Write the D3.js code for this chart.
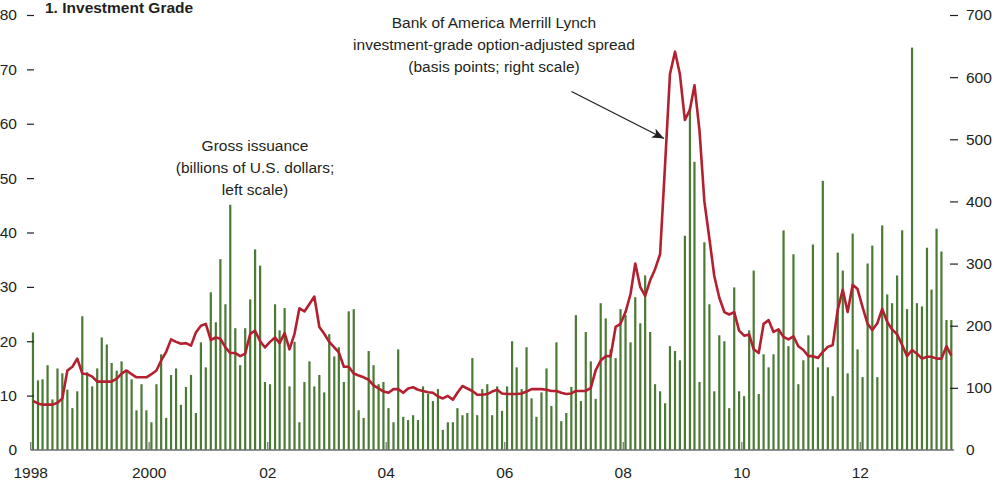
<!DOCTYPE html>
<html>
<head>
<meta charset="utf-8">
<script src="https://cdn.jsdelivr.net/npm/d3@7"></script>
<style>
  body { margin: 0; background: #fff; }
  svg text { font-family: "Liberation Sans", Arial, sans-serif; fill: #231f20; }
</style>
</head>
<body>
<svg id="chart" width="998" height="481"></svg>
<script>
// monthly gross issuance, billions of U.S. dollars (left scale), Jan 1998 - Jul 2013
const issuance = [
  21.6,12.8,13.0,15.6,9.3,15.0,14.1,11.1,7.7,10.8,24.6,14.3,
  11.7,15.0,20.7,19.4,16.0,14.6,16.3,14.7,13.0,7.3,12.1,7.3,
  5.1,12.1,17.6,5.9,13.8,15.0,8.3,11.6,13.8,6.8,19.8,15.2,
  29.0,23.5,35.1,26.8,45.1,22.4,15.6,22.4,27.7,36.9,33.9,12.5,
  12.1,26.8,22.0,26.1,11.7,19.9,5.1,12.5,16.3,11.7,13.8,10.6,
  21.3,17.2,18.9,12.5,25.5,25.9,7.3,5.9,18.2,15.6,12.1,12.5,
  7.7,5.1,18.5,6.1,5.5,6.4,5.5,11.7,10.3,9.0,11.2,3.7,
  5.1,5.1,7.7,6.4,6.8,16.9,6.4,11.2,12.1,6.4,11.7,7.2,
  11.7,20.0,15.2,11.2,18.9,9.5,6.1,10.6,15.0,8.1,19.8,5.3,
  6.8,11.6,24.8,9.0,21.7,16.3,9.4,27.0,24.2,18.5,16.9,25.9,
  24.8,19.8,28.1,23.3,32.1,21.7,12.1,10.8,8.6,19.1,18.2,16.5,
  39.4,63.0,53.0,12.5,38.2,26.8,10.8,21.1,20.0,7.7,29.9,10.8,
  9.9,22.0,33.0,10.3,17.6,15.2,17.6,22.0,40.4,19.1,36.0,12.1,
  16.5,21.1,37.8,15.2,49.5,15.2,9.9,36.3,33.0,14.1,39.8,18.5,
  13.4,34.3,37.6,13.4,41.3,28.6,27.0,32.1,40.4,25.9,74.0,27.0,
  26.4,37.2,29.5,40.7,36.5,23.9,23.9
];

// BofA Merrill Lynch investment-grade option-adjusted spread, basis points (right scale)
const spread = [
  79,75,73,73,73,76,83,128,134,147,123,122,
  118,110,110,110,110,115,123,128,122,117,117,117,
  122,128,144,158,178,174,171,172,168,189,200,203,
  177,181,179,165,156,156,151,155,187,192,175,165,
  174,181,172,188,162,187,228,223,235,247,198,187,
  174,165,157,134,134,123,120,117,113,104,99,94,
  92,98,98,92,99,101,97,95,93,92,86,83,
  87,81,92,103,99,95,89,89,90,94,97,91,
  90,90,90,91,94,98,98,98,97,95,95,92,
  90,91,95,95,95,100,128,144,151,151,198,203,
  222,251,300,262,248,273,291,315,460,605,641,605,
  531,548,587,514,400,340,280,245,222,218,222,192,
  184,186,162,156,203,209,190,194,182,178,183,167,
  161,151,151,148,158,166,169,226,258,222,266,259,
  230,203,193,204,227,206,194,186,169,151,161,155,
  147,150,150,147,147,167,152
];

const tickYears = [1998, 2000, 2002, 2004, 2006, 2008, 2010, 2012];
const tickLabels = ['1998', '2000', '02', '04', '06', '08', '10', '12'];
const leftTicks = [0, 10, 20, 30, 40, 50, 60, 70, 80];
const rightTicks = [0, 100, 200, 300, 400, 500, 600, 700];

const fs = '15.5px';
const green = '#4b7a35';
const red = '#b3202f';
const ink = '#231f20';

const months = issuance.map((d, i) => new Date(1998, i, 15));

const x = d3.scaleTime()
  .domain([new Date(1998, 0, 1), new Date(2012, 0, 1)])
  .range([30.7, 860.3]);
const yL = d3.scaleLinear().domain([0, 80]).range([450, 15]);
const yR = d3.scaleLinear().domain([0, 700]).range([450, 15]);

const svg = d3.select('#chart');

// bars
svg.append('g')
  .selectAll('rect')
  .data(issuance)
  .enter()
  .append('rect')
  .attr('x', (d, i) => x(months[i]) - 1.1)
  .attr('y', d => yL(d))
  .attr('width', 2.2)
  .attr('height', d => yL(0) - yL(d))
  .attr('fill', green);

// spread line
const line = d3.line()
  .x((d, i) => x(months[i]))
  .y(d => yR(d));

svg.append('path')
  .datum(spread)
  .attr('d', line)
  .attr('fill', 'none')
  .attr('stroke', red)
  .attr('stroke-width', 2.6)
  .attr('stroke-linejoin', 'round');

// baseline + year ticks
svg.append('line')
  .attr('x1', x(new Date(1998, 0, 1)))
  .attr('x2', x(new Date(2013, 7, 1)))
  .attr('y1', yL(0)).attr('y2', yL(0))
  .attr('stroke', '#6d6e71')
  .attr('stroke-width', 1.6);

const xt = svg.append('g');
tickYears.forEach((yr, i) => {
  const px = x(new Date(yr, 0, 1));
  xt.append('line')
    .attr('x1', px).attr('x2', px)
    .attr('y1', yL(0)).attr('y2', yL(0) - 8)
    .attr('stroke', '#6d6e71')
    .attr('stroke-width', 1.2);
  xt.append('text')
    .attr('x', px)
    .attr('y', 478)
    .attr('text-anchor', 'middle')
    .style('font-size', fs)
    .text(tickLabels[i]);
});

// left axis
const la = svg.append('g')
  .attr('transform', 'translate(34,0)')
  .call(d3.axisLeft(yL).tickValues(leftTicks).tickSize(7).tickPadding(10));
la.select('.domain').remove();
la.selectAll('line').attr('stroke', ink).attr('stroke-width', 1.2);
la.selectAll('.tick').filter(d => d === 0).select('line').remove();
la.selectAll('text').style('font-size', fs).attr('fill', ink)
  .style('font-family', '"Liberation Sans", Arial, sans-serif');

// right axis
const ra = svg.append('g')
  .attr('transform', 'translate(950,0)')
  .call(d3.axisRight(yR).tickValues(rightTicks).tickSize(8).tickPadding(8));
ra.select('.domain').remove();
ra.selectAll('line').attr('stroke', ink).attr('stroke-width', 1.2);
ra.selectAll('.tick').filter(d => d === 0).select('line').remove();
ra.selectAll('text').style('font-size', fs).attr('fill', ink)
  .style('font-family', '"Liberation Sans", Arial, sans-serif');

// title (nudged down a little so it is not clipped)
svg.append('text')
  .attr('x', 45)
  .attr('y', 13)
  .style('font-size', fs)
  .style('font-weight', 'bold')
  .text('1. Investment Grade');

// annotations
const note1 = ['Gross issuance', '(billions of U.S. dollars;', 'left scale)'];
note1.forEach((t, i) => {
  svg.append('text')
    .attr('x', 255)
    .attr('y', 151 + i * 22)
    .attr('text-anchor', 'middle')
    .style('font-size', fs)
    .text(t);
});

const note2 = ['Bank of America Merrill Lynch', 'investment-grade option-adjusted spread', '(basis points; right scale)'];
note2.forEach((t, i) => {
  svg.append('text')
    .attr('x', 494)
    .attr('y', 28 + i * 22)
    .attr('text-anchor', 'middle')
    .style('font-size', fs)
    .text(t);
});

// arrow
svg.append('defs').append('marker')
  .attr('id', 'arrow')
  .attr('viewBox', '0 0 12 10')
  .attr('refX', 12).attr('refY', 5)
  .attr('markerWidth', 12).attr('markerHeight', 10)
  .attr('markerUnits', 'userSpaceOnUse')
  .attr('orient', 'auto')
  .append('path')
  .attr('d', 'M0,0 L12,5 L0,10 L3,5 Z')
  .attr('fill', ink);

svg.append('line')
  .attr('x1', 571.5).attr('y1', 91.5)
  .attr('x2', 664).attr('y2', 138.5)
  .attr('stroke', ink)
  .attr('stroke-width', 1.3)
  .attr('marker-end', 'url(#arrow)');
</script>
</body>
</html>
